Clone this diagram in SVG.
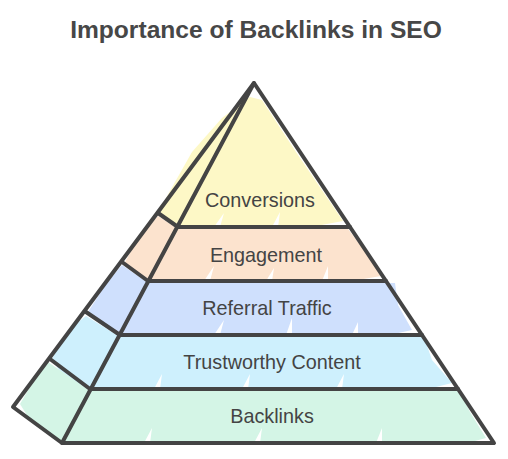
<svg xmlns="http://www.w3.org/2000/svg" width="508" height="459" viewBox="0 0 508 459">
  <style>
    .title { font-family: "Liberation Sans", Arial, sans-serif; font-weight: bold; font-size: 24.6px; fill: #474747; }
    .label { font-family: "Liberation Sans", Arial, sans-serif; font-size: 19.8px; fill: #444444; text-anchor: middle; }
    .edge { fill: none; stroke: #444444; stroke-width: 4; stroke-linecap: round; stroke-linejoin: round; }
    .gap { fill: #ffffff; }
    .l1 { fill: #FDF8C6; }
    .l2 { fill: #FCE3CE; }
    .l3 { fill: #CFE0FD; }
    .l4 { fill: #CEF0FD; }
    .l5 { fill: #D4F5E6; }
  </style>
  <rect width="508" height="459" fill="#ffffff"/>
  <text class="title" x="256" y="38" text-anchor="middle">Importance of Backlinks in SEO</text>

  <g id="layer-conversions">
    <polygon class="l1" points="250,97 262,100 296,152 343,221 300,229 210,227 178,229 160,214 166,198 192,152 222,118"/>
    <polygon class="gap" points="214,227 224,213 220,227"/>
    <polygon class="gap" points="272,227 280,212 278,227"/>
    <text class="label" x="260" y="207">Conversions</text>
  </g>

  <g id="layer-engagement">
    <polygon class="l2" points="158,216 178,229 348,229 364,250 381,276 340,283 180,282 148,283 124,264 138,238"/>
    <polygon class="gap" points="204,281 214,266 210,281"/>
    <polygon class="gap" points="266,281 274,268 272,281"/>
    <polygon class="gap" points="322,281 328,266 328,281"/>
    <text class="label" x="266" y="262">Engagement</text>
  </g>

  <g id="layer-referral">
    <polygon class="l3" points="122,265 148,283 395,283 398,305 412,330 380,337 150,336 120,337 98,322 88,312 106,284"/>
    <polygon class="gap" points="214,335 224,320 220,335"/>
    <polygon class="gap" points="286,335 292,318 292,335"/>
    <polygon class="gap" points="352,335 358,322 358,335"/>
    <text class="label" x="267" y="315">Referral Traffic</text>
  </g>

  <g id="layer-trustworthy">
    <polygon class="l4" points="86,316 120,337 424,337 432,360 452,383 420,391 120,391 90,391 60,372 52,359 68,330"/>
    <polygon class="gap" points="154,389 162,374 160,389"/>
    <polygon class="gap" points="242,389 250,374 248,389"/>
    <polygon class="gap" points="336,389 344,374 342,389"/>
    <text class="label" x="272" y="369">Trustworthy Content</text>
  </g>

  <g id="layer-backlinks">
    <polygon class="l5" points="48,362 90,391 460,391 470,412 486,438 460,445 120,444 64,445 30,420 20,404 34,380"/>
    <polygon class="gap" points="144,443 152,428 150,443"/>
    <polygon class="gap" points="254,443 262,428 260,443"/>
    <polygon class="gap" points="376,443 382,428 382,443"/>
    <text class="label" x="272" y="423">Backlinks</text>
  </g>

  <g id="outline">
    <polyline class="edge" points="13,407 254,83 494,443 62,443 13,407"/>
    <line class="edge" x1="254" y1="83" x2="62" y2="443"/>
    <line class="edge" x1="178" y1="227" x2="350" y2="227"/>
    <line class="edge" x1="148" y1="281" x2="386" y2="281"/>
    <line class="edge" x1="120" y1="335" x2="422" y2="335"/>
    <line class="edge" x1="90" y1="389" x2="458" y2="389"/>
    <line class="edge" x1="178" y1="227" x2="158" y2="213"/>
    <line class="edge" x1="148" y1="281" x2="122" y2="262"/>
    <line class="edge" x1="120" y1="335" x2="86" y2="312"/>
    <line class="edge" x1="90" y1="389" x2="50" y2="359"/>
  </g>
</svg>
